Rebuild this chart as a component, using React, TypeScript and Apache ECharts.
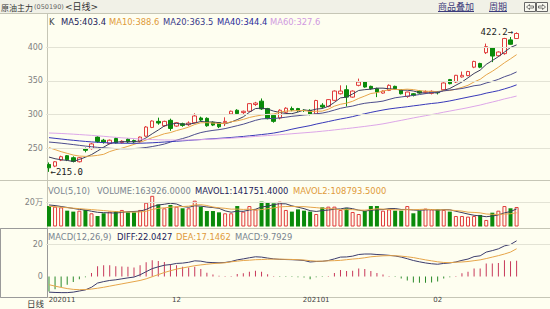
import React, { useEffect, useRef } from "react";
import * as echarts from "echarts";

const dates = [
  "20201102","20201103","20201104","20201105","20201106","20201109","20201110","20201111","20201112","20201113",
  "20201116","20201117","20201118","20201119","20201120","20201123","20201124","20201125","20201126","20201127","20201130",
  "20201201","20201202","20201203","20201204","20201207","20201208","20201209","20201210","20201211","20201214",
  "20201215","20201216","20201217","20201218","20201221","20201222","20201223","20201224","20201225","20201228",
  "20201229","20201230","20201231",
  "20210104","20210105","20210106","20210107","20210108","20210111","20210112","20210113","20210114","20210115",
  "20210118","20210119","20210120","20210121","20210122","20210125","20210126","20210127","20210128","20210129",
  "20210201","20210202","20210203","20210204","20210205","20210208","20210209","20210210","20210218","20210219",
  "20210222","20210223","20210224","20210225",
];

const opens = [
  226, 223.5, 232.5, 239, 236, 230, 249.5, 249.5, 266.7, 262,
  257, 264.5, 258.5, 263.5, 261.5, 260.3, 268, 281, 290, 283.5,
  291.5, 283, 286.5, 285, 288, 295, 294.5, 288.5, 288, 288,
  301, 306.5, 303, 305, 315, 320, 309, 299, 295, 303.5,
  309, 309, 306.5, 306.4, 301, 314, 312.3, 321.2, 331, 337,
  326, 343.5, 348.4, 342, 338.6, 332, 336, 342, 337, 327,
  331, 335, 333.3, 331.6, 333, 337, 352, 348.4, 356, 358,
  370.5, 376, 392, 399, 387.5, 390.6, 411, 413,
];
const closes = [
  221, 230, 237.5, 233, 230.5, 236, 247, 256.5, 260, 259,
  262, 258, 260.5, 259.5, 259.5, 266.7, 281.6, 290.5, 287.5, 290,
  279.5, 288, 284, 287.5, 298, 292, 283.5, 284.5, 282, 290,
  305, 301.5, 305, 316.3, 317.2, 308.5, 294, 290, 306.5, 309.5,
  307, 306, 306, 301, 321, 311.3, 322.3, 335, 335, 326,
  335, 348.4, 341, 338.6, 333.6, 335, 343.5, 338.6, 331, 333.6,
  328.7, 332, 334, 334.6, 332.5, 347, 346, 358.4, 358.4, 364,
  379, 370.5, 401, 387, 393, 413, 404.5, 420.5,
];
const lows = [
  215, 222, 231, 231, 229, 229, 244, 248, 258, 257,
  256, 257, 257, 258, 258, 259, 267, 280, 285, 282,
  276, 282, 282, 283, 287, 290, 282, 283, 280, 283,
  300, 300, 301, 304, 313, 307, 293, 288, 293, 302,
  305, 304, 304, 299, 300, 309, 311, 320, 330, 312,
  325, 342, 340, 337, 326, 331, 335, 337, 330, 325,
  327, 331, 331, 330, 330, 336, 345, 347, 355, 357,
  369, 369, 390, 378, 386, 389, 404, 413,
];
const highs = [
  229, 231, 239, 240, 238, 237, 251, 258, 268, 264,
  263, 266, 262, 265, 263, 267.5, 283, 291.5, 295.5, 291,
  294, 289, 288, 290, 302, 297, 296, 290, 289, 296,
  306, 308, 306, 317, 319, 324, 310, 300, 308, 311,
  312, 310, 308, 308, 322, 317, 323, 336, 343.5, 343.5,
  336, 353.5, 349, 343, 340, 336, 345, 343, 338, 334,
  332, 336, 336, 336, 335, 348, 353, 359, 364, 365,
  380, 377, 405.5, 400, 394, 414, 415.3, 422.2,
];
const volumes = [
  172000, 167000, 161000, 133000, 125000, 133000, 139000, 111000, 88000, 111000,
  125000, 130000, 139000, 119000, 119000, 139000, 200000, 258000, 186000, 153000,
  181000, 167000, 153000, 153000, 217000, 167000, 130000, 130000, 119000, 111000,
  111000, 172000, 125000, 172000, 144000, 209000, 200000, 195000, 209000, 139000,
  125000, 144000, 133000, 125000, 105000, 161000, 167000, 167000, 139000, 153000,
  122000, 105000, 130000, 172000, 172000, 133000, 144000, 133000, 133000, 172000,
  111000, 133000, 150000, 144000, 144000, 139000, 125000, 88000, 88000, 83000,
  88000, 97000, 55000, 116000, 133000, 172000, 153000, 163926,
];

// moving-average values before each window is complete
const ma5Head = [237, 234.5, 233, 232];
const ma10Head = [251, 248, 245, 242.5, 240, 238.5, 238, 238.5, 239.5];
const ma20Head = [259.3, 258.5, 257.6, 256.6, 255.5, 254.4, 253.3, 252.3, 251.4, 250.6, 250, 249.6, 249.4, 249.4, 249.6, 250.2, 251.2, 252.6, 254.3];
const ma40Head = [
  265.8, 264.8, 263.8, 262.8, 261.9, 261, 260.2, 259.5, 258.9, 258.4,
  258, 257.7, 257.5, 257.4, 257.4, 257.5, 257.8, 258.2, 258.7, 259.3,
  259.9, 260.5, 261.1, 261.7, 262.4, 263, 263.6, 264.2, 264.8, 265.4,
  266.1, 266.8, 267.6, 268.5, 269.4, 270.4, 271.4, 272.6, 274.3,
];
const ma60Head = [
  272.7, 272.4, 272, 271.5, 271, 270.4, 269.8, 269.2, 268.5, 267.8,
  267, 266.3, 265.6, 265, 264.4, 263.8, 263.3, 262.9, 262.6, 262.4,
  262.3, 262.2, 262.2, 262.3, 262.5, 262.8, 263.2, 263.6, 264, 264.5,
  265, 265.6, 266.2, 266.9, 267.6, 268.3, 268.9, 269.5, 270.2, 270.9,
  271.6, 272.3, 273, 273.7, 274.5, 275.4, 276.3, 277.3, 278.3, 279.3,
  280.3, 281.4, 282.5, 283.7, 284.9, 286.3, 288, 289.8, 291.5,
];
const mavol1Head = [181000, 176000, 168000, 160000];
const mavol2Head = [170000, 166000, 162000, 158000, 154000, 150000, 146000, 142000, 138000];

const diff = [
  -9.6, -9.8, -9.9, -9.9, -9.6, -8.9, -8.2, -6.6, -4, -3.1,
  -2.4, -2, -1.4, -0.8, -0.3, 1.1, 3, 4.9, 6, 7,
  7.4, 8.1, 8.3, 8.8, 9.7, 9.5, 8.8, 8.6, 8.5, 8.7,
  9.3, 10.3, 10.9, 11.6, 12.2, 12, 11.4, 10.9, 10.6, 10.5,
  10.4, 10.2, 9.9, 9, 9.3, 9.4, 9.9, 10.9, 12, 12.1,
  12.6, 13.6, 13.9, 13.9, 13.6, 13.4, 13.1, 12.7, 12, 11,
  9.9, 9.1, 8.4, 7.9, 7.6, 8.1, 8.4, 9, 10, 10.8,
  12.3, 12.8, 15.1, 16, 17.1, 18.9, 19.8, 22.04,
];
const dea = [
  -5, -5.9, -6.7, -7.4, -7.9, -8.1, -8, -7.7, -7.2, -6.6,
  -5.9, -5.2, -4.5, -3.8, -3.1, -2.4, -1.4, -0.1, 1.2, 2.5,
  3.6, 4.6, 5.3, 6, 6.7, 7.2, 7.6, 8, 8.25, 8.5,
  9.1, 9.5, 9.9, 10.1, 10.4, 10.5, 10.7, 10.75, 10.75, 10.65,
  10.55, 10.4, 10.2, 9.8, 9.5, 9.5, 9.7, 9.8, 10, 10.4,
  10.8, 11.1, 11.6, 12.2, 12.5, 12.8, 12.9, 12.85, 12.6, 12.2,
  11.7, 11, 10.3, 9.7, 9.1, 8.7, 8.6, 8.85, 9, 9.3,
  9.8, 10.3, 11.1, 12, 12.9, 13.9, 15.1, 17.15,
];
const macd = [
  -9.2, -7.8, -6.4, -5, -3.4, -1.6, -0.4, 2.2, 6.4, 7,
  7, 6.4, 6.2, 6, 5.6, 7, 8.8, 10, 9.6, 9,
  7.6, 7, 6, 5.6, 6, 4.6, 2.4, 1.2, 0.5, 0.4,
  0.4, 1.6, 2, 3, 3.6, 3, 1.4, 0.3, -0.3, -0.3,
  -0.3, -0.4, -0.6, -1.6, -0.4, -0.2, 0.4, 2.2, 4, 3.4,
  3.6, 5, 4.6, 3.4, 2.2, 1.2, 0.4, -0.3, -1.2, -2.4,
  -3.6, -3.8, -3.8, -3.6, -3, -1.2, -0.4, 0.3, 2, 3,
  5, 5, 8, 8, 8.4, 10, 9.4, 9.79,
];

const priceTicks = [250, 300, 350, 400];
const volTicks = [200000];
const macdTicks = [0, 20];
const macdGridTicks = [20];
const monthLabels: [string, string][] = [
  ["20201102", "202011"],
  ["20201201", "12"],
  ["20210104", "202101"],
  ["20210201", "02"],
];

const BG = "#fefef0";
const TITLE_BG = "#f1f1e7";
const BORDER = "#c6c6b6";
const GRID = "#e3e3d5";
const RED = "#e03c3c";
const GREEN = "#0a8a0a";
const MACD_RED = "#c8385a";
const MACD_GREEN = "#2a8a2a";
const C_MA5 = "#3c3c5c";
const C_MA10 = "#e6a54a";
const C_MA20 = "#4c4c8c";
const C_MA40 = "#3838b8";
const C_MA60 = "#dca6e8";
const LABEL = "#808080";
const FONT = '"DejaVu Sans", "Noto Sans CJK SC", sans-serif';
const CJK = '"Noto Sans CJK SC", sans-serif';
const MONO = '"DejaVu Sans Mono", monospace';

function movingAvg(values: number[], n: number, head: number[]) {
  return values.map((_, i) => {
    if (i < n - 1) return head[i];
    let s = 0;
    for (let k = i - n + 1; k <= i; k++) s += values[k];
    return +(s / n).toFixed(2);
  });
}

export default function App() {
  const ref = useRef<HTMLDivElement>(null);
  useEffect(() => {
    document.body.style.margin = "0";
    if (!ref.current) return;
    const chart = echarts.init(ref.current, null, { renderer: "svg" });

    const SLOT = 6.104;
    const FIRST_X = 49;
    const PAD = 5;
    const cats = dates.concat(Array.from({ length: PAD }, (_, i) => "pad" + i));
    const gridLeft = FIRST_X - SLOT / 2;
    const gridWidth = cats.length * SLOT;

    const up = closes.map((c, i) => c >= opens[i]);
    const candleData = dates.map((_, i) => [opens[i], closes[i], lows[i], highs[i]]);
    const ma5 = movingAvg(closes, 5, ma5Head);
    const ma10 = movingAvg(closes, 10, ma10Head);
    const ma20 = movingAvg(closes, 20, ma20Head);
    const ma40 = movingAvg(closes, 40, ma40Head);
    const ma60 = movingAvg(closes, 60, ma60Head);
    const mavol1 = movingAvg(volumes, 5, mavol1Head);
    const mavol2 = movingAvg(volumes, 10, mavol2Head);

    const minLow = Math.min(...lows);
    const minIdx = lows.indexOf(minLow);
    const maxHigh = Math.max(...highs);
    const maxIdx = highs.indexOf(maxHigh);

    const labelMap: Record<string, string> = {};
    monthLabels.forEach(([d, t]) => (labelMap[d] = t));

    const gridLines = (vals: number[]) => ({
      silent: true,
      symbol: ["none", "none"],
      label: { show: false },
      lineStyle: { color: GRID, width: 1, type: "solid" },
      data: vals.map((v) => ({ yAxis: v })),
    });

    const line = (name: string, x: number, data: number[], color: string) => ({
      name,
      type: "line",
      xAxisIndex: x,
      yAxisIndex: x,
      data,
      symbol: "none",
      showSymbol: false,
      silent: true,
      lineStyle: { width: 1, color },
      z: 3,
    });

    const txt = (text: string, x: number, y: number, fill: string, size = 8.4, family = FONT, align = "left") => ({
      type: "text",
      x,
      y,
      silent: true,
      style: { text, fill, fontSize: size, fontFamily: family, align, verticalAlign: "middle" },
    });
    const hline = (y: number, x1 = 0, x2 = 550, stroke = BORDER) => ({
      type: "line",
      silent: true,
      shape: { x1, y1: y, x2, y2: y },
      style: { stroke, lineWidth: 1 },
    });

    const hiddenX = (gi: number) => ({
      type: "category",
      gridIndex: gi,
      data: cats,
      boundaryGap: true,
      show: false,
    });

    const option: any = {
      animation: false,
      backgroundColor: BG,
      grid: [
        { left: gridLeft, width: gridWidth, top: 13.63, height: 168.33 },
        { left: gridLeft, width: gridWidth, top: 178.9, height: 47.6 },
        { left: gridLeft, width: gridWidth, top: 211.7, height: 99.9 },
      ],
      xAxis: [
        hiddenX(0),
        hiddenX(1),
        {
          type: "category",
          gridIndex: 2,
          data: cats,
          boundaryGap: true,
          position: "bottom",
          offset: -14.6,
          axisLine: { show: false },
          axisTick: { show: false },
          splitLine: { show: false },
          axisLabel: {
            interval: (idx: number, val: string) => labelMap[val] !== undefined,
            formatter: (val: string, idx: number) =>
              idx === 0 ? "{l|" + labelMap[val] + "}" : labelMap[val] || "",
            margin: 2,
            color: "#444",
            fontSize: 7,
            fontFamily: FONT,
            rich: { l: { padding: [0, 0, 0, 26], color: "#444", fontSize: 7, fontFamily: FONT } },
          },
        },
      ],
      yAxis: [
        {
          type: "value",
          gridIndex: 0,
          min: 200,
          max: 450,
          interval: 50,
          axisLine: { show: false },
          axisTick: { show: false },
          splitLine: { show: false },
          axisLabel: {
            margin: 3,
            color: LABEL,
            fontSize: 8,
            fontFamily: FONT,
            formatter: (v: number) => (priceTicks.includes(v) ? String(v) : ""),
          },
        },
        {
          type: "value",
          gridIndex: 1,
          min: 0,
          max: 400000,
          interval: 200000,
          axisLine: { show: false },
          axisTick: { show: false },
          splitLine: { show: false },
          axisLabel: {
            margin: 3,
            color: LABEL,
            fontSize: 8,
            fontFamily: FONT,
            formatter: (v: number) => (volTicks.includes(v) ? v / 10000 + "万" : ""),
          },
        },
        {
          type: "value",
          gridIndex: 2,
          min: -20,
          max: 40,
          interval: 20,
          axisLine: { show: false },
          axisTick: { show: false },
          splitLine: { show: false },
          axisLabel: {
            margin: 3,
            color: LABEL,
            fontSize: 8,
            fontFamily: FONT,
            formatter: (v: number) => (macdTicks.includes(v) ? String(v) : ""),
          },
        },
      ],
      series: [
        {
          type: "candlestick",
          xAxisIndex: 0,
          yAxisIndex: 0,
          data: candleData,
          barWidth: 4,
          silent: true,
          itemStyle: {
            color: BG,
            color0: GREEN,
            borderColor: RED,
            borderColor0: GREEN,
            borderWidth: 1,
          },
          markLine: gridLines(priceTicks),
          markPoint: {
            silent: true,
            symbol: "circle",
            symbolSize: 1,
            itemStyle: { color: "rgba(0,0,0,0)" },
            label: { show: true, color: "#222", fontFamily: MONO, fontSize: 9 },
            data: [
              {
                coord: [dates[minIdx], minLow],
                label: { position: "right", distance: 1, formatter: "←" + minLow.toFixed(1) },
              },
              {
                coord: [dates[maxIdx], maxHigh],
                label: { position: "left", distance: 3, formatter: maxHigh.toFixed(1) + "→" },
              },
            ],
          },
        },
        line("MA5", 0, ma5, C_MA5),
        line("MA10", 0, ma10, C_MA10),
        line("MA20", 0, ma20, C_MA20),
        line("MA40", 0, ma40, C_MA40),
        line("MA60", 0, ma60, C_MA60),
        {
          type: "bar",
          xAxisIndex: 1,
          yAxisIndex: 1,
          barWidth: 4,
          silent: true,
          data: volumes.map((v, i) => ({
            value: v,
            itemStyle: up[i]
              ? { color: BG, borderColor: RED, borderWidth: 1 }
              : { color: GREEN, borderColor: GREEN, borderWidth: 0 },
          })),
          markLine: gridLines(volTicks),
        },
        line("MAVOL1", 1, mavol1, C_MA5),
        line("MAVOL2", 1, mavol2, C_MA10),
        {
          type: "bar",
          xAxisIndex: 2,
          yAxisIndex: 2,
          barWidth: 1,
          silent: true,
          data: macd.map((m) => ({ value: m, itemStyle: { color: m >= 0 ? MACD_RED : MACD_GREEN } })),
          markLine: gridLines(macdGridTicks),
        },
        line("DIFF", 2, diff, "#3c3c6c"),
        line("DEA", 2, dea, C_MA10),
      ],
      graphic: [
        { type: "rect", silent: true, shape: { x: 0, y: 0, width: 550, height: 13.5 }, style: { fill: TITLE_BG } },
        hline(13.5),
        hline(180.5),
        hline(228.5),
        hline(297.5),
        { type: "line", silent: true, shape: { x1: 47.5, y1: 13.5, x2: 47.5, y2: 297.5 }, style: { stroke: BORDER, lineWidth: 1 } },
        { type: "rect", silent: true, shape: { x: 0.5, y: 228.5, width: 47, height: 69 }, style: { fill: "none", stroke: "#9a9a9a", lineWidth: 1 } },
        // title bar
        txt("原油主力", 1, 7, "#333", 8, CJK),
        txt("(050190)", 34, 7.3, "#666", 6.5, FONT),
        txt("<日线>", 65, 7, "#333", 9, FONT),
        txt("商品叠加", 438, 6.5, "#3a3a7a", 9, CJK),
        hline(11.5, 438, 474, "#3a3a7a"),
        txt("周期", 489, 6.5, "#3a3a7a", 9, CJK),
        hline(11.5, 489, 507, "#3a3a7a"),
        { type: "rect", silent: true, shape: { x: 524.5, y: 2.5, width: 11, height: 9 }, style: { fill: "#f8f8f0", stroke: "#666", lineWidth: 1 } },
        { type: "rect", silent: true, shape: { x: 536.5, y: 2.5, width: 11, height: 9 }, style: { fill: "#f8f8f0", stroke: "#666", lineWidth: 1 } },
        {
          type: "polygon", silent: true,
          shape: { points: [[526.5, 7], [529.5, 4.5], [529.5, 6], [533.5, 6], [533.5, 8], [529.5, 8], [529.5, 9.5]] },
          style: { fill: "none", stroke: "#555", lineWidth: 0.8 },
        },
        {
          type: "polygon", silent: true,
          shape: { points: [[545.5, 7], [542.5, 4.5], [542.5, 6], [538.5, 6], [538.5, 8], [542.5, 8], [542.5, 9.5]] },
          style: { fill: "none", stroke: "#555", lineWidth: 0.8 },
        },
        // main legend
        txt("K", 49, 22, "#444"),
        txt("MA5:403.4", 61, 22, "#22225a"),
        txt("MA10:388.6", 109, 22, "#e09a3a"),
        txt("MA20:363.5", 163, 22, "#3a3a8a"),
        txt("MA40:344.4", 217, 22, "#2a2a9a"),
        txt("MA60:327.6", 270, 22, "#d09ae0"),
        // volume legend
        txt("VOL(5,10)", 48, 191, "#7a8590"),
        txt("VOLUME:163926.0000", 97, 191, "#7a8590"),
        txt("MAVOL1:141751.4000", 195, 191, "#22225a"),
        txt("MAVOL2:108793.5000", 293, 191, "#e09a3a"),
        // macd legend
        txt("MACD(12,26,9)", 48, 237, "#7a8590"),
        txt("DIFF:22.0427", 117, 237, "#22225a"),
        txt("DEA:17.1462", 176, 237, "#e09a3a"),
        txt("MACD:9.7929", 235, 237, "#7a8590"),
        // bottom left
        txt("日线", 44, 303, "#333", 8.5, CJK, "right"),
      ],
    };

    chart.setOption(option);
    return () => chart.dispose();
  }, []);

  return <div ref={ref} style={{ width: 550, height: 309, background: BG }} />;
}
